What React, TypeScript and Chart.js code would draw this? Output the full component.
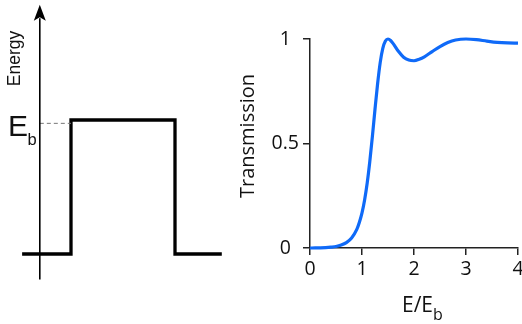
import React, { useEffect, useRef } from 'react';
import { Chart, registerables } from 'chart.js';

Chart.register(...registerables);

// ---- Right panel: transmission vs E/Eb ----
const energyRatio = [0, 0.1, 0.2, 0.3, 0.4, 0.5, 0.6, 0.7, 0.8, 0.9, 0.95, 1.0, 1.05, 1.1, 1.15, 1.2, 1.25, 1.3, 1.35, 1.4, 1.45, 1.5, 1.55, 1.6, 1.7, 1.8, 1.9, 2.0, 2.1, 2.2, 2.35, 2.5, 2.65, 2.8, 3.0, 3.2, 3.4, 3.6, 3.8, 4.0];
const transmission = [0, 0.0003, 0.0009, 0.002, 0.004, 0.007, 0.014, 0.026, 0.048, 0.089, 0.123, 0.168, 0.23, 0.311, 0.414, 0.534, 0.664, 0.786, 0.887, 0.955, 0.99, 1.0, 0.993, 0.978, 0.941, 0.913, 0.899, 0.896, 0.903, 0.915, 0.94, 0.964, 0.983, 0.995, 1.0, 0.997, 0.99, 0.984, 0.981, 0.98];
const xTickValues = [0, 1, 2, 3, 4];
const yTickValues = [0, 0.5, 1];
const xTitle = 'E/E';
const xTitleSub = 'b';
const yTitle = 'Transmission';

// ---- Left panel: rectangular barrier ----
const barrierX = [-0.47, 0, 0, 1, 1, 1.45];
const barrierV = [0, 0, 1, 1, 0, 0];
const energyAxisX = [-0.3, -0.3];
const energyAxisV = [-0.19, 1.76];
const arrowTipV = 1.86;
const dashedX = [-0.3, 0];
const dashedV = [0.975, 0.975];
const energyLabel = 'Energy';
const ebLabel = 'E';
const ebSub = 'b';

const pts = (xs: number[], ys: number[]) => xs.map((x, i) => ({ x, y: ys[i] }));

export default function App() {
  const leftRef = useRef<HTMLCanvasElement>(null);
  const rightRef = useRef<HTMLCanvasElement>(null);

  useEffect(() => {
    const leftPlugin = {
      id: 'leftDecor',
      afterDatasetsDraw(chart: any) {
        const ctx = chart.ctx;
        const xs = chart.scales.x;
        const ys = chart.scales.y;
        const ax = xs.getPixelForValue(energyAxisX[0]);
        const tip = ys.getPixelForValue(arrowTipV);
        ctx.save();
        ctx.fillStyle = '#000';
        ctx.beginPath();
        ctx.moveTo(ax, tip);
        ctx.lineTo(ax + 6, tip + 16);
        ctx.lineTo(ax, tip + 12.5);
        ctx.lineTo(ax - 6, tip + 16);
        ctx.closePath();
        ctx.fill();

        ctx.fillStyle = '#111';
        ctx.translate(ax - 24.5, 58.5);
        ctx.rotate(-Math.PI / 2);
        ctx.font = '17.5px "Liberation Sans"';
        ctx.textAlign = 'center';
        ctx.textBaseline = 'middle';
        ctx.fillText(energyLabel, 0, 0);
        ctx.restore();

        ctx.save();
        ctx.fillStyle = '#111';
        ctx.textBaseline = 'alphabetic';
        ctx.textAlign = 'left';
        ctx.font = '30px "Liberation Sans"';
        ctx.fillText(ebLabel, 8, 135.5);
        const w = ctx.measureText(ebLabel).width;
        ctx.font = '16.5px "Liberation Sans"';
        ctx.fillText(ebSub, 8 + w - 0.5, 145);
        ctx.restore();
      },
    };

    const left = new Chart(leftRef.current as HTMLCanvasElement, {
      type: 'scatter',
      data: {
        datasets: [
          {
            data: pts(energyAxisX, energyAxisV),
            showLine: true,
            borderColor: '#000',
            borderWidth: 1.6,
            pointRadius: 0,
          },
          {
            data: pts(dashedX, dashedV),
            showLine: true,
            borderColor: '#777',
            borderWidth: 1,
            borderDash: [4, 3],
            pointRadius: 0,
          },
          {
            data: pts(barrierX, barrierV),
            showLine: true,
            borderColor: '#000',
            borderWidth: 3.3,
            borderJoinStyle: 'miter',
            borderCapStyle: 'butt',
            pointRadius: 0,
            tension: 0,
          },
        ],
      },
      options: {
        responsive: false,
        animation: false,
        events: [],
        layout: { padding: 0 },
        plugins: { legend: { display: false }, tooltip: { enabled: false } },
        scales: {
          x: { type: 'linear', display: false, min: -71 / 104, max: (230 - 71) / 104 },
          y: { type: 'linear', display: false, min: (254 - 324) / 134, max: 254 / 134 },
        },
      } as any,
      plugins: [leftPlugin],
    });

    const rightPlugin = {
      id: 'rightDecor',
      afterDraw(chart: any) {
        const ctx = chart.ctx;
        ctx.save();
        ctx.fillStyle = '#111';
        ctx.translate(18, 136);
        ctx.rotate(-Math.PI / 2);
        ctx.font = '20px "Open Sans"';
        ctx.textAlign = 'center';
        ctx.textBaseline = 'middle';
        ctx.fillText(yTitle, 0, 0);
        ctx.restore();

        ctx.save();
        ctx.fillStyle = '#111';
        ctx.textAlign = 'left';
        ctx.textBaseline = 'alphabetic';
        ctx.font = '21px "Open Sans"';
        const x0 = 172;
        ctx.fillText(xTitle, x0, 312);
        const w = ctx.measureText(xTitle).width;
        ctx.font = '16px "Open Sans"';
        ctx.fillText(xTitleSub, x0 + w, 320);
        ctx.restore();
      },
    };

    const axisGrid = {
      drawOnChartArea: false,
      drawTicks: true,
      tickLength: 7,
      color: '#222',
      lineWidth: 1.5,
    };
    const tickFont = { family: 'Open Sans', size: 19.5 };

    const right = new Chart(rightRef.current as HTMLCanvasElement, {
      type: 'scatter',
      data: {
        datasets: [
          {
            data: pts(energyRatio, transmission),
            showLine: true,
            borderColor: '#0f6af8',
            borderWidth: 3.2,
            pointRadius: 0,
            cubicInterpolationMode: 'monotone',
            clip: false,
          },
        ],
      },
      options: {
        responsive: false,
        animation: false,
        events: [],
        layout: { padding: { top: 39, right: 4, left: 0, bottom: 0 } },
        plugins: { legend: { display: false }, tooltip: { enabled: false } },
        scales: {
          x: {
            type: 'linear',
            min: 0,
            max: 4,
            afterBuildTicks: (s: any) => {
              s.ticks = xTickValues.map((v) => ({ value: v }));
            },
            afterFit: (s: any) => {
              s.height = 76;
              s.paddingLeft = 0;
              s.paddingRight = 0;
            },
            grid: axisGrid,
            border: { display: true, color: '#222', width: 1.5 },
            ticks: {
              font: tickFont,
              color: '#111',
              padding: 3,
              maxRotation: 0,
              autoSkip: false,
              callback: (v: any) => String(v),
            },
          },
          y: {
            type: 'linear',
            min: 0,
            max: 1,
            afterBuildTicks: (s: any) => {
              s.ticks = yTickValues.map((v) => ({ value: v }));
            },
            afterFit: (s: any) => {
              s.width = 80;
              s.paddingTop = 0;
              s.paddingBottom = 0;
            },
            grid: axisGrid,
            border: { display: true, color: '#222', width: 1.5 },
            ticks: {
              font: tickFont,
              color: '#111',
              padding: 4,
              crossAlign: 'center',
              autoSkip: false,
              callback: (v: any) => String(v),
            },
          },
        },
      } as any,
      plugins: [rightPlugin],
    });

    return () => {
      left.destroy();
      right.destroy();
    };
  }, []);

  return (
    <div style={{ position: 'fixed', left: 0, top: 0, width: 522, height: 324, background: '#fff', overflow: 'hidden' }}>
      <canvas ref={leftRef} width={230} height={324} style={{ position: 'absolute', left: 0, top: 0, width: 230, height: 324 }} />
      <canvas ref={rightRef} width={292} height={324} style={{ position: 'absolute', left: 230, top: 0, width: 292, height: 324 }} />
    </div>
  );
}
